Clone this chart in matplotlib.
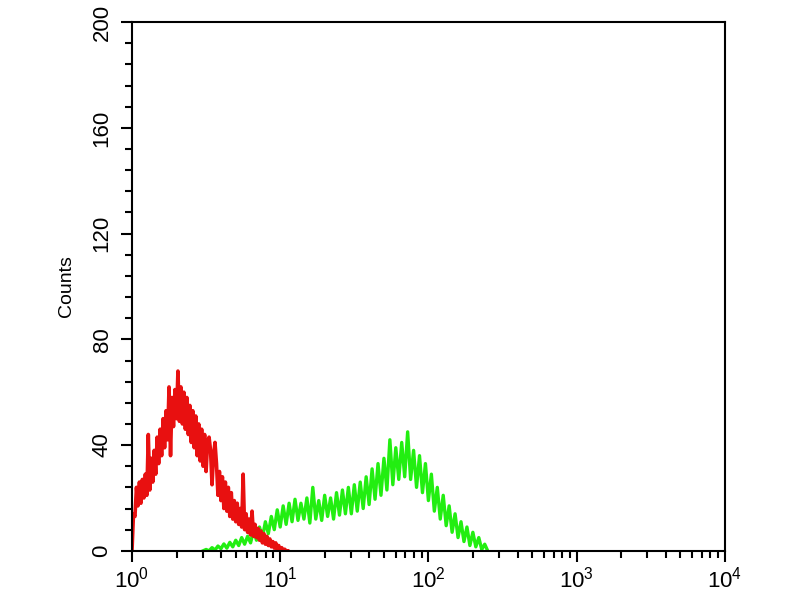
import numpy as np
import matplotlib.pyplot as plt
from matplotlib.ticker import MultipleLocator, LogLocator

plt.rcParams['font.family'] = ['Liberation Sans', 'DejaVu Sans']
plt.rcParams['mathtext.fontset'] = 'custom'
plt.rcParams['mathtext.rm'] = 'Liberation Sans'
plt.rcParams['mathtext.default'] = 'regular'

# red histogram: log10 channel positions and counts
red_log = np.round(np.arange(0.0, 1.051, 0.01), 2)
red_counts = [0, 14, 13, 24, 17, 26, 18, 27, 20, 29,
              21, 44, 23, 35, 26, 38, 29, 43, 33, 46,
              36, 50, 39, 53, 42, 62, 36, 58, 47, 61,
              50, 68, 49, 62, 48, 60, 46, 58, 44, 55,
              41, 53, 39, 51, 36, 48, 34, 46, 32, 44,
              30, 41, 43, 38, 25, 36, 41, 33, 21, 30,
              19, 28, 16, 26, 15, 24, 13, 22, 12, 19,
              11, 18, 10, 16, 9, 29, 8, 14, 7, 12,
              6, 15, 5.5, 10, 5, 8.5, 4, 7.5, 3, 6.5,
              2.5, 5.5, 2, 4.5, 1.5, 3.5, 1, 3, 0.5, 2,
              0.3, 1.2, 0, 0.6, 0, 0]

# green histogram
green_log = np.round(np.arange(0.48, 2.401, 0.02), 2)
green_counts = [0, 0.5, 0, 1.2, 0.3, 1.8, 0.8, 2.6, 1, 3.2,
                1.5, 4, 2, 5, 2.5, 5.5, 3, 7.5, 4, 9,
                5, 11, 6.5, 13, 8, 15.5, 9, 17, 10, 18,
                11, 19.5, 11.5, 18, 12, 20, 10.5, 24, 12, 19,
                11.5, 21, 13, 20, 12, 22, 13.5, 23, 14, 24,
                14, 25, 15, 26, 16, 28, 17.5, 31, 19.5, 33,
                21, 35, 23, 42, 25, 39, 27, 41, 28, 45,
                27, 38, 24, 36, 22, 33, 19, 29, 15, 24,
                12, 21, 9.5, 17, 7, 14, 5, 11, 3.5, 9,
                2, 7, 1.5, 5, 0.5, 2.5, 0]

y_ticks = [0, 40, 80, 120, 160, 200]

fig = plt.figure(figsize=(8, 6), dpi=100)
ax = fig.add_axes([0.165, 0.082, 0.741, 0.881])

ax.plot(10 ** green_log, green_counts, color='#22ee11', lw=2.4)
ax.plot(10 ** red_log, red_counts, color='#e81010', lw=2.6)

ax.set_xscale('log')
ax.set_xlim(1, 1e4)
ax.set_ylim(0, 200)
ax.set_yticks(y_ticks)
ax.yaxis.set_minor_locator(MultipleLocator(8))
ax.xaxis.set_major_locator(LogLocator(base=10, numticks=10))
ax.xaxis.set_minor_locator(LogLocator(base=10, subs=np.arange(2, 10), numticks=20))

ax.tick_params(which='both', direction='out', width=1.5, colors='black')
ax.tick_params(which='major', length=8, labelsize=16)
ax.tick_params(which='minor', length=5)
ax.tick_params(axis='y', which='major', pad=6)
for lab in ax.get_yticklabels():
    lab.set_rotation(90)
    lab.set_va('center')

for sp in ax.spines.values():
    sp.set_linewidth(1.5)

ax.set_ylabel('Counts', fontsize=14, labelpad=12)

fig.savefig('out.png', dpi=100)
